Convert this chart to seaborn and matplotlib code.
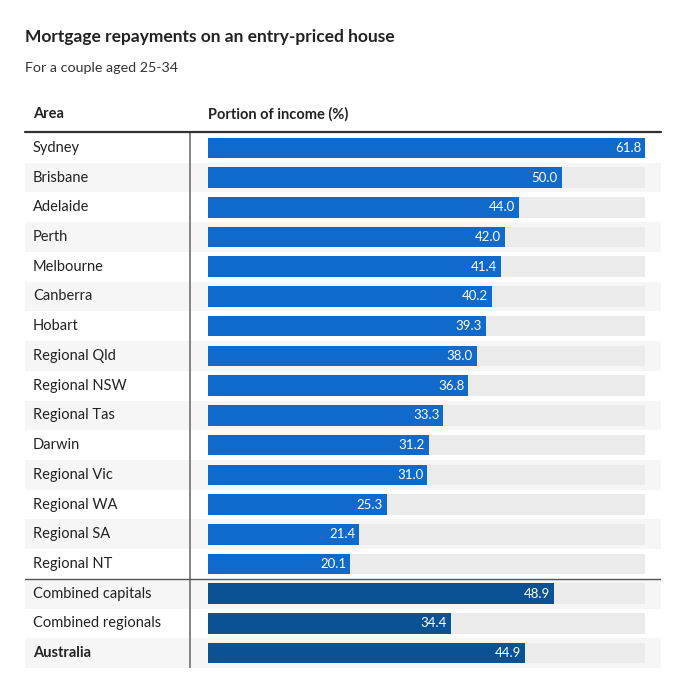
import pandas as pd
import matplotlib.pyplot as plt
import seaborn as sns

# Data
areas = ["Sydney", "Brisbane", "Adelaide", "Perth", "Melbourne", "Canberra", "Hobart",
         "Regional Qld", "Regional NSW", "Regional Tas", "Darwin", "Regional Vic",
         "Regional WA", "Regional SA", "Regional NT",
         "Combined capitals", "Combined regionals", "Australia"]
portion = [61.8, 50.0, 44.0, 42.0, 41.4, 40.2, 39.3, 38.0, 36.8, 33.3, 31.2, 31.0,
           25.3, 21.4, 20.1, 48.9, 34.4, 44.9]
group = ["area"] * 15 + ["summary"] * 3

df = pd.DataFrame({"area": areas, "portion": portion, "group": group})
df["track"] = df["portion"].max()

sns.set_theme(style="white")
plt.rcParams["font.family"] = ["Lato", "DejaVu Sans"]

W, H = 673, 678
fig = plt.figure(figsize=(W / 100, H / 100), dpi=100)
fig.patch.set_facecolor("white")

# table spans x 25..661 px, bars run from 208 px (0) to 645 px (max)
left_px, right_px, bar0_px, bar1_px = 25, 661, 208, 645
top_px, bot_px = 133, 668
scale = (bar1_px - bar0_px) / df["portion"].max()
x_lo = (left_px - bar0_px) / scale
x_hi = (right_px - bar0_px) / scale

ax = fig.add_axes([left_px / W, 1 - bot_px / H, (right_px - left_px) / W, (bot_px - top_px) / H])

# alternating row backgrounds
for i in range(len(df)):
    if i % 2 == 1:
        ax.axhspan(i - 0.5, i + 0.5, color="#f6f6f6", lw=0, zorder=0)

sns.barplot(data=df, y="area", x="track", color="#ebebeb", width=0.69,
            orient="h", ax=ax, saturation=1, linewidth=0, zorder=2)
sns.barplot(data=df, y="area", x="portion", hue="group",
            palette={"area": "#106acb", "summary": "#0b5294"}, width=0.69,
            orient="h", ax=ax, legend=False, dodge=False, saturation=1,
            linewidth=0, zorder=3)

for i, (name, v) in enumerate(zip(df["area"], df["portion"])):
    ax.text(v - 4 / scale, i, f"{v:.1f}", ha="right", va="center",
            color="white", fontsize=9.5, zorder=4)
    ax.text(x_lo + 8 / scale, i, name, ha="left", va="center", color="#222222",
            fontsize=10.5, fontweight="bold" if name == "Australia" else "normal")

ax.axvline((190 - bar0_px) / scale, color="#7a7a7a", lw=1.3, zorder=5)
ax.axhline(14.5, color="#555555", lw=1.0, zorder=5)

ax.set_xlim(x_lo, x_hi)
ax.set_ylim(len(df) - 0.5, -0.5)
ax.set_axis_off()

# header line
fig.add_artist(plt.Line2D([left_px / W, right_px / W], [1 - 132 / H] * 2,
                          color="#333333", lw=1.6))

fig.text(25 / W, 1 - 37 / H, "Mortgage repayments on an entry-priced house",
         fontsize=12.5, fontweight="bold", color="#222222", va="center")
fig.text(25 / W, 1 - 68 / H, "For a couple aged 25-34", fontsize=10.3,
         color="#333333", va="center")
fig.text(33 / W, 1 - 114 / H, "Area", fontsize=10.5, fontweight="bold",
         color="#222222", va="center")
fig.text(bar0_px / W, 1 - 114 / H, "Portion of income (%)", fontsize=10.5,
         fontweight="bold", color="#222222", va="center")

plt.savefig("out.png", dpi=100)
